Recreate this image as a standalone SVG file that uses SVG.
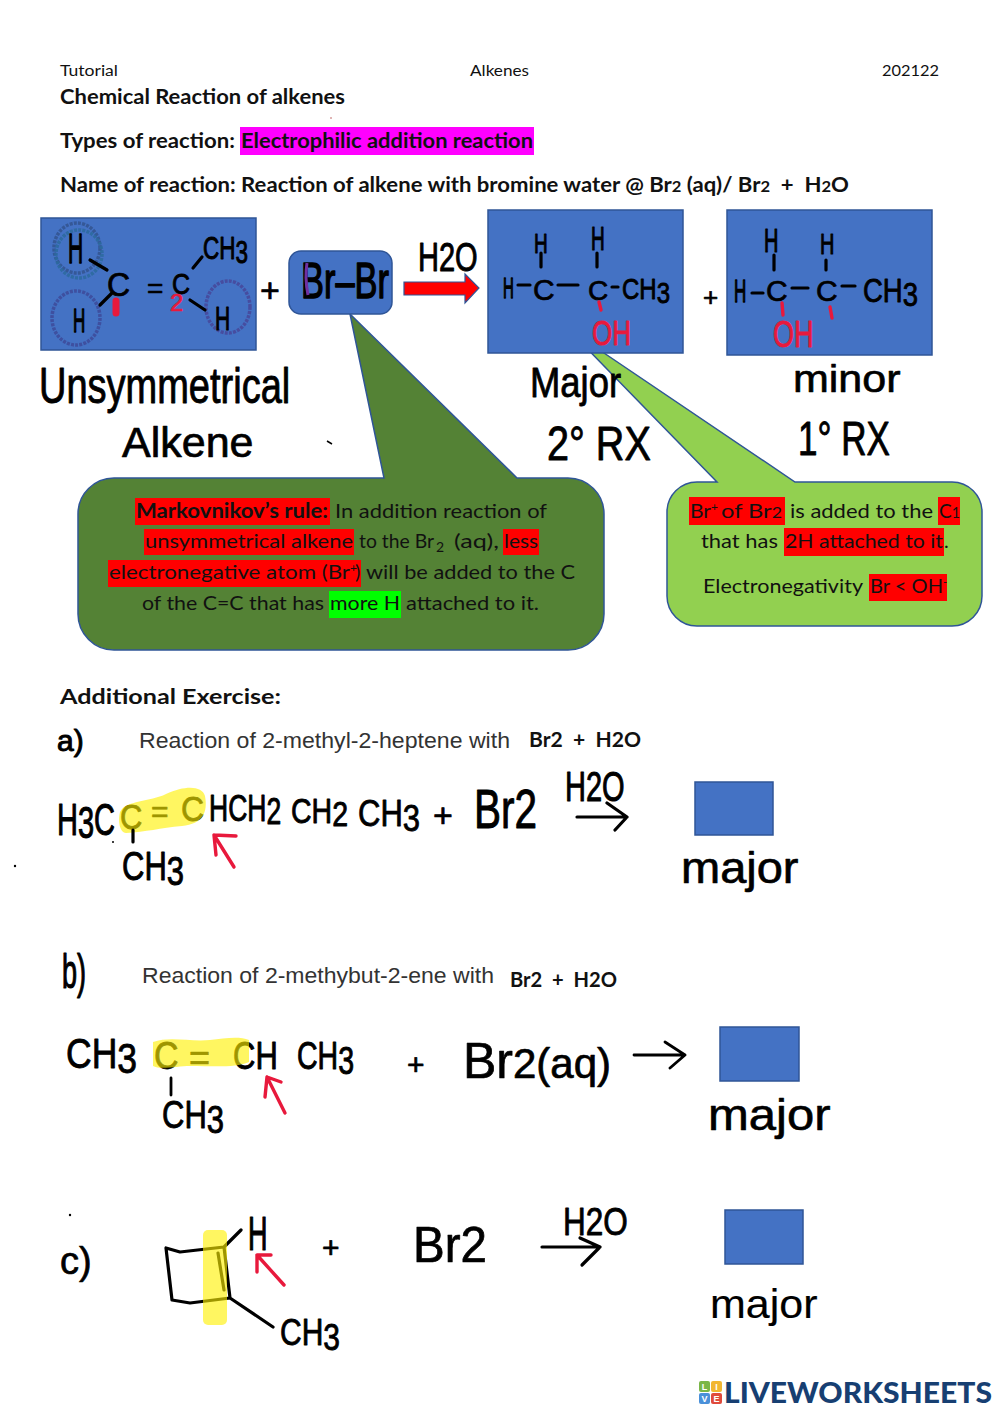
<svg xmlns="http://www.w3.org/2000/svg" width="1000" height="1413" viewBox="0 0 1000 1413">
<style>
.c{font-family:Lato,"Open Sans","Liberation Sans",sans-serif;font-size:20px;fill:#111}
.s{font-size:15.5px}
.b{font-weight:700}
.h{font-family:"Liberation Sans",Arial,sans-serif;fill:#000;stroke:#000;stroke-width:.7;stroke-linejoin:round}
.r{fill:#e8193c;stroke:#e8193c}
.a{font-family:"Liberation Sans",Arial,sans-serif;font-size:22.4px;fill:#333}
.box{fill:#4472c4;stroke:#2f5597;stroke-width:1.5}
.bd{fill:none;stroke:#000;stroke-width:3.2;stroke-linecap:round;stroke-linejoin:round}
.rd{fill:none;stroke:#e8193c;stroke-width:3.4;stroke-linecap:round;stroke-linejoin:round}
.hl{fill:#fff000;opacity:.62}
.m{fill:#ff0000}
.ci{fill:none;stroke-width:3.5;stroke-dasharray:3 1.2;opacity:.85}
.t{font-family:"Liberation Sans",Arial,sans-serif;font-size:9px;font-weight:700;fill:#fff;text-anchor:middle}
</style>

<g id="header">
<text class="c s" x="60" y="76" textLength="58" lengthAdjust="spacingAndGlyphs">Tutorial</text>
<text class="c s" x="470" y="76" textLength="59" lengthAdjust="spacingAndGlyphs">Alkenes</text>
<text class="c s" x="882" y="76" textLength="57" lengthAdjust="spacingAndGlyphs">202122</text>
<text class="c b" x="60" y="104" textLength="285" lengthAdjust="spacingAndGlyphs">Chemical Reaction of alkenes</text>
<rect x="240" y="127" width="294" height="28" fill="#ff00ff"/>
<text class="c b" x="60" y="148" textLength="175" lengthAdjust="spacingAndGlyphs">Types of reaction:</text>
<text class="c b" x="241" y="148" textLength="292" lengthAdjust="spacingAndGlyphs">Electrophilic addition reaction</text>
<text class="c b" x="60" y="192" textLength="789" lengthAdjust="spacingAndGlyphs">Name of reaction: Reaction of alkene with bromine water @ Br<tspan style="font-size:15px">2</tspan> (aq)/ Br<tspan style="font-size:15px">2</tspan> &#160;+&#160; H<tspan style="font-size:15px">2</tspan>O</text>
<circle cx="331" cy="118" r=".7" fill="#a33"/>
</g>

<g id="callout-markovnikov">
<path d="M114 478H384L350 314L517 478H568A36 36 0 0 1 604 514V614A36 36 0 0 1 568 650H114A36 36 0 0 1 78 614V514A36 36 0 0 1 114 478Z" fill="#548235" stroke="#2f5597" stroke-width="1.5"/>
<rect class="m" x="135" y="498" width="195" height="27"/>
<rect class="m" x="144" y="529" width="210" height="26"/>
<rect class="m" x="503" y="529" width="36" height="26"/>
<rect class="m" x="108" y="560" width="253" height="27"/>
<rect x="329" y="591" width="72" height="27" fill="#00ff00"/>
<text class="c b" x="136" y="518" textLength="192" lengthAdjust="spacingAndGlyphs">Markovnikov’s rule:</text>
<text class="c" x="335" y="518" textLength="212" lengthAdjust="spacingAndGlyphs">In addition reaction of</text>
<text class="c" x="145" y="548" textLength="208" lengthAdjust="spacingAndGlyphs">unsymmetrical alkene</text>
<text class="c" x="359" y="548" textLength="75" lengthAdjust="spacingAndGlyphs">to the Br</text>
<text class="c" x="436" y="552" style="font-size:14px">2</text>
<text class="c" x="454" y="548" textLength="45" lengthAdjust="spacingAndGlyphs">(aq),</text>
<text class="c" x="504" y="548" textLength="34" lengthAdjust="spacingAndGlyphs">less</text>
<text class="c" x="109" y="579" textLength="241" lengthAdjust="spacingAndGlyphs">electronegative atom (Br</text>
<text class="c" x="350" y="572" style="font-size:12px">+</text>
<text class="c" x="355" y="579">)</text>
<text class="c" x="366" y="579" textLength="209" lengthAdjust="spacingAndGlyphs">will be added to the C</text>
<text class="c" x="142" y="610" textLength="182" lengthAdjust="spacingAndGlyphs">of the C=C that has</text>
<text class="c" x="330" y="610" textLength="70" lengthAdjust="spacingAndGlyphs">more H</text>
<text class="c" x="406" y="610" textLength="133" lengthAdjust="spacingAndGlyphs">attached to it.</text>
</g>

<g id="callout-electronegativity">
<path d="M697 482H717L567 328L795 482H952A30 30 0 0 1 982 512V596A30 30 0 0 1 952 626H697A30 30 0 0 1 667 596V512A30 30 0 0 1 697 482Z" fill="#92d050" stroke="#2f5597" stroke-width="1.5"/>
<rect class="m" x="689" y="497" width="96" height="28"/>
<rect class="m" x="938" y="497" width="22" height="28"/>
<rect class="m" x="784" y="528" width="160" height="28"/>
<rect class="m" x="869" y="574" width="78" height="27"/>
<text class="c" x="690" y="518" textLength="21" lengthAdjust="spacingAndGlyphs">Br</text>
<text class="c" x="711" y="511" style="font-size:12px">+</text>
<text class="c" x="721" y="518" textLength="61" lengthAdjust="spacingAndGlyphs">of Br<tspan style="font-size:15px">2</tspan></text>
<text class="c" x="790" y="518" textLength="143" lengthAdjust="spacingAndGlyphs">is added to the</text>
<text class="c" x="939" y="518" textLength="21" lengthAdjust="spacingAndGlyphs">C<tspan style="font-size:15px">1</tspan></text>
<text class="c" x="701" y="548" textLength="77" lengthAdjust="spacingAndGlyphs">that has</text>
<text class="c" x="785" y="548" textLength="158" lengthAdjust="spacingAndGlyphs">2H attached to it</text>
<text class="c" x="944" y="548">.</text>
<text class="c" x="703" y="593" textLength="160" lengthAdjust="spacingAndGlyphs">Electronegativity</text>
<text class="c" x="870" y="593" textLength="73" lengthAdjust="spacingAndGlyphs">Br &lt; OH</text>
<text class="c" x="943" y="586" style="font-size:11px">-</text>
</g>

<g id="alkene">
<rect class="box" x="41" y="218" width="215" height="132"/>
<ellipse class="ci" cx="77" cy="248" rx="23" ry="25" stroke="#33548f"/>
<ellipse class="ci" cx="79" cy="254" rx="23" ry="24" stroke="#2b6a9e"/>
<ellipse class="ci" cx="76" cy="318" rx="24" ry="27" stroke="#3d4a9a"/>
<ellipse class="ci" cx="228" cy="307" rx="22" ry="26" stroke="#47479a"/>
<text class="h" font-size="21" transform="translate(68 263) scale(1 2)">H</text>
<text class="h" font-size="17" transform="translate(73 332) scale(1 2)">H</text>
<text class="h" font-size="21" transform="translate(215 330) scale(1 1.55)">H</text>
<text class="h" font-size="32" transform="translate(107 296) scale(1 1.02)">C</text>
<text class="h" font-size="28" transform="translate(147 298)">=</text>
<text class="h" font-size="25" transform="translate(172 294) scale(1 1.2)">C</text>
<text class="h" font-size="22.5" transform="translate(203 259) scale(1 1.4)">CH<tspan dy="3">3</tspan></text>
<text class="h r" font-size="24" transform="translate(170 311)">2</text>
</g>

<g id="plus-1"><text class="h" x="260" y="302" font-size="34">+</text></g>

<g id="bromine">
<rect class="box" x="289" y="251" width="103" height="63" rx="12"/>
<text class="h" font-size="34.4" transform="translate(301 298) scale(1 1.45)" style="stroke-width:1">Br–Br</text>
</g>

<g id="water-label"><text class="h" font-size="29" transform="translate(418 271) scale(1 1.4)">H2O</text></g>

<g id="major-product">
<rect class="box" x="488" y="210" width="195" height="143"/>
<text class="h" font-size="19" transform="translate(534 253) scale(1 1.5)">H</text>
<text class="h" font-size="19" transform="translate(591 250) scale(1 1.7)">H</text>
<text class="h" font-size="15" transform="translate(503 298) scale(1 2)">H</text>
<text class="h" font-size="30" transform="translate(533 300)">C</text>
<text class="h" font-size="28" transform="translate(588 300)">C</text>
<text class="h" font-size="24" transform="translate(622 299) scale(1 1.2)">CH<tspan dy="3">3</tspan></text>
<text class="h r" font-size="26" transform="translate(592 345) scale(1 1.35)">OH</text>
</g>

<g id="minor-product">
<rect class="box" x="727" y="210" width="205" height="145"/>
<text class="h" font-size="20" transform="translate(764 252) scale(1 1.7)">H</text>
<text class="h" font-size="20" transform="translate(820 254) scale(1 1.5)">H</text>
<text class="h" font-size="17" transform="translate(734 302) scale(1 1.9)">H</text>
<text class="h" font-size="30" transform="translate(766 301)">C</text>
<text class="h" font-size="30" transform="translate(816 301)">C</text>
<text class="h" font-size="27.5" transform="translate(863 302) scale(1 1.2)">CH<tspan dy="3">3</tspan></text>
<text class="h r" font-size="27" transform="translate(773 347) scale(1 1.35)">OH</text>
</g>
<g id="plus-2"><text class="h" x="703" y="306" font-size="26">+</text></g>

<g id="handwritten-labels">
<text class="h" font-size="38" transform="translate(39 403) scale(1 1.3)">Unsymmetrical</text>
<text class="h" font-size="43" transform="translate(122 457)">Alkene</text>
<text class="h" font-size="36.4" transform="translate(530 397) scale(1 1.15)">Major</text>
<text class="h" font-size="39.6" transform="translate(547 460) scale(1 1.2)">2° RX</text>
<text class="h" font-size="43" transform="translate(793 392) scale(1 .92)">minor</text>
<text class="h" font-size="35" transform="translate(798 455) scale(1 1.35)">1° RX</text>
</g>

<g id="exercise-title"><text class="c b" x="60" y="704" textLength="221" lengthAdjust="spacingAndGlyphs">Additional Exercise:</text></g>

<g id="exercise-a">
<text class="h" font-size="30" transform="translate(57 751)" style="stroke-width:1">a)</text>
<text class="a" x="139" y="748" textLength="371" lengthAdjust="spacingAndGlyphs">Reaction of 2-methyl-2-heptene with</text>
<text class="c b" x="529" y="747" textLength="112" lengthAdjust="spacingAndGlyphs">Br2 &#160;+&#160; H2O</text>
<text class="h" font-size="29" transform="translate(57 835) scale(1 1.5)">H<tspan dy="2">3</tspan><tspan dy="-2">C</tspan></text>
<text class="h" font-size="31" transform="translate(120 829) scale(1 1.15)">C</text>
<text class="h" font-size="30" transform="translate(151 822)">=</text>
<text class="h" font-size="32" transform="translate(181 821) scale(1 1.1)">C</text>
<text class="h" font-size="26.5" transform="translate(209 821) scale(1 1.4)">HCH<tspan dy="2">2</tspan></text>
<text class="h" font-size="28.5" transform="translate(291 823) scale(1 1.25)">CH<tspan dy="2">2</tspan></text>
<text class="h" font-size="31" transform="translate(358 826) scale(1 1.2)">CH<tspan dy="4">3</tspan></text>
<text class="h" font-size="34" transform="translate(433 827)">+</text>
<text class="h" font-size="40.5" transform="translate(474 828) scale(1 1.35)">Br2</text>
<text class="h" font-size="29" transform="translate(565 801) scale(1 1.45)">H2O</text>
<text class="h" font-size="31" transform="translate(122 880) scale(1 1.3)">CH<tspan dy="4">3</tspan></text>
<rect class="box" x="695" y="782" width="78" height="53"/>
<text class="h" font-size="47" transform="translate(681 883) scale(1 .95)">major</text>
<path class="hl" d="M120 812C126 800 150 802 166 794C186 785 202 786 205 796C208 812 203 824 182 826C160 828 146 832 126 833C119 832 118 820 120 812Z"/>
</g>

<g id="exercise-b">
<text class="h" font-size="27" transform="translate(62 988) scale(1 1.75)">b)</text>
<text class="a" x="142" y="983" textLength="352" lengthAdjust="spacingAndGlyphs">Reaction of 2-methybut-2-ene with</text>
<text class="c b" x="510" y="987" textLength="107" lengthAdjust="spacingAndGlyphs">Br2 &#160;+&#160; H2O</text>
<text class="h" font-size="35.5" transform="translate(66 1068) scale(1 1.2)">CH<tspan dy="4">3</tspan></text>
<text class="h" font-size="34" transform="translate(154 1069) scale(1 1.12)">C</text>
<text class="h" font-size="36" transform="translate(189 1070)">=</text>
<text class="h" font-size="31" transform="translate(233 1069) scale(1 1.25)">CH</text>
<text class="h" font-size="28.5" transform="translate(297 1069) scale(1 1.35)">CH<tspan dy="4">3</tspan></text>
<text class="h" font-size="30" transform="translate(407 1075)">+</text>
<text class="h" font-size="50" transform="translate(463 1078)">Br<tspan font-size="42">2(aq)</tspan></text>
<text class="h" font-size="31" transform="translate(162 1128) scale(1 1.25)">CH<tspan dy="4">3</tspan></text>
<rect class="box" x="720" y="1027" width="79" height="54"/>
<text class="h" font-size="49" transform="translate(708 1130) scale(1 .9)">major</text>
<path class="hl" d="M153 1042C170 1036 190 1042 210 1040C225 1038 240 1036 249 1040L249 1062C235 1068 215 1066 190 1066C178 1066 160 1070 153 1066Z"/>
</g>

<g id="exercise-c">
<text class="h" font-size="38" transform="translate(60 1274)">c)</text>
<text class="h" font-size="27" transform="translate(248 1250) scale(1 1.75)">H</text>
<text class="h" font-size="30" transform="translate(322 1258)">+</text>
<text class="h" font-size="47.5" transform="translate(413 1262) scale(1 1.05)">Br2</text>
<text class="h" font-size="31.5" transform="translate(563 1235) scale(1 1.25)">H2O</text>
<text class="h" font-size="30" transform="translate(280 1345) scale(1 1.25)">CH<tspan dy="4">3</tspan></text>
<rect class="box" x="725" y="1210" width="78" height="54"/>
<text class="h" font-size="43" transform="translate(710 1318) scale(1 .95)" style="stroke-width:.2">major</text>
</g>

<g id="connectors">
<path class="bd" d="M90 260L107 270M100 305L112 293M193 268L202 257M190 300L205 310"/>
<path class="rd" d="M116 301L116 313" style="stroke-width:7"/>
<path d="M404 282H465V274L479 288L465 303V295H404Z" fill="#ff0000" stroke="#2f5597" stroke-width="1.2"/>
<path d="M307 263C305 275 306 285 308 295" fill="none" stroke="#7030a0" stroke-width="3"/>
<path class="bd" d="M541 253V267M597 253V267M518 285H530M558 285H578M612 287H618"/>
<path class="rd" d="M599 302L601 310"/>
<path class="bd" d="M774 255V270M826 260V270M752 293H763M792 288H808M842 286H855"/>
<path class="rd" d="M782 303L783 315M830 307L832 318"/>
<path class="bd" d="M133 830V842M577 817H627M607 803L627 817L615 830"/>
<path class="rd" d="M234 867L214 835M214 835L216 855M214 835L236 836"/>
<path class="bd" style="stroke-width:2.8" d="M171 1078V1095M634 1055H685M665 1042L685 1055L670 1068"/>
<path class="rd" d="M285 1113L267 1077M267 1077L265 1097M267 1077L281 1082"/>
<path class="bd" d="M166 1248L172 1300L190 1303L230 1298L224 1247L180 1252L166 1248M224 1247L241 1230M230 1298L273 1327M218 1253L224 1290"/>
<path class="bd" d="M542 1247H600M600 1247L582 1265M580 1238L600 1247"/>
<path class="rd" d="M284 1285L257 1255M257 1255L257 1272M257 1255L271 1255"/>
<rect class="hl" x="203" y="1230" width="24" height="95" rx="5"/>
<circle cx="70" cy="1215" r="1.2"/><circle cx="15" cy="866" r="1.2"/><circle cx="113" cy="842" r="1"/>
<path d="M327 441L332 444" stroke="#000" stroke-width="1.5"/>
</g>

<g id="logo">
<rect x="699" y="1381" width="11" height="11" rx="2" fill="#7ab648"/>
<rect x="711" y="1381" width="11" height="11" rx="2" fill="#f2b632"/>
<rect x="699" y="1393" width="11" height="11" rx="2" fill="#4a90d9"/>
<rect x="711" y="1393" width="11" height="11" rx="2" fill="#e04a3c"/>
<text class="t" x="704.5" y="1390">L</text><text class="t" x="716.5" y="1390">I</text><text class="t" x="704.5" y="1402">V</text><text class="t" x="716.5" y="1402">E</text>
<text x="724" y="1403" font-family="Lato,'Liberation Sans',Arial,sans-serif" font-weight="900" font-size="28" fill="#173f72" textLength="268" lengthAdjust="spacingAndGlyphs">LIVEWORKSHEETS</text>
</g>
</svg>
